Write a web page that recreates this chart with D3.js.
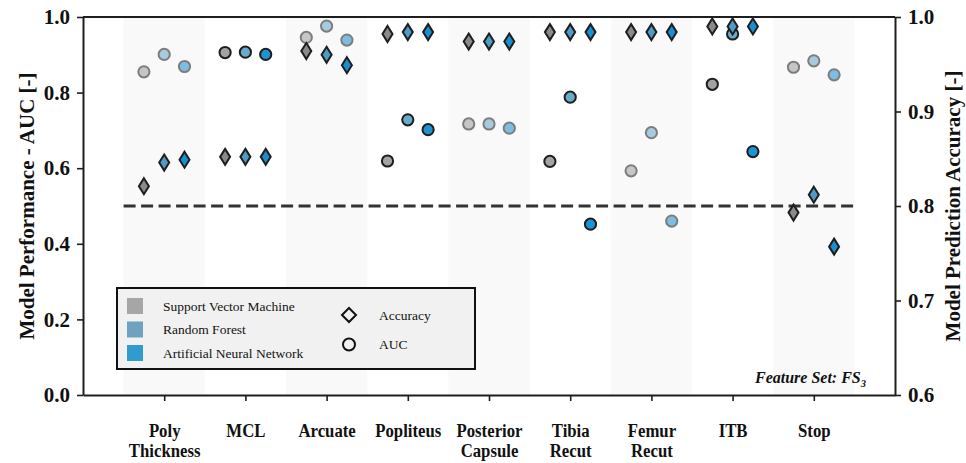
<!DOCTYPE html>
<html>
<head>
<meta charset="utf-8">
<script src="https://cdn.jsdelivr.net/npm/d3@7"></script>
<style>
  html, body { margin: 0; padding: 0; background: #ffffff; }
  svg { display: block; }
  text { font-family: "Liberation Serif", "Times New Roman", serif; }
</style>
</head>
<body>
<svg id="chart" width="966" height="463"></svg>
<script>
// Ligament / feature categories along the x axis
const categories = [
  ["Poly", "Thickness"], ["MCL"], ["Arcuate"], ["Popliteus"],
  ["Posterior", "Capsule"], ["Tibia", "Recut"], ["Femur", "Recut"], ["ITB"], ["Stop"]
];

const models = ["Support Vector Machine", "Random Forest", "Artificial Neural Network"];

// AUC per model (left axis)
const aucSVM = [0.855, 0.906, 0.946, 0.619, 0.717, 0.618, 0.593, 0.822, 0.867];
const aucRF  = [0.901, 0.907, 0.976, 0.728, 0.717, 0.788, 0.694, 0.955, 0.884];
const aucANN = [0.869, 0.901, 0.939, 0.702, 0.706, 0.452, 0.460, 0.644, 0.847];

// Prediction accuracy per model (right axis)
const accSVM = [0.821, 0.852, 0.964, 0.982, 0.974, 0.984, 0.984, 0.990, 0.793];
const accRF  = [0.846, 0.852, 0.960, 0.984, 0.974, 0.984, 0.984, 0.990, 0.812];
const accANN = [0.849, 0.852, 0.949, 0.984, 0.974, 0.984, 0.984, 0.990, 0.757];

const leftTicks  = [0.0, 0.2, 0.4, 0.6, 0.8, 1.0];
const rightTicks = [0.6, 0.7, 0.8, 0.9, 1.0];
const chanceLevel = 0.5;

const aucSeries = [aucSVM, aucRF, aucANN];
const accSeries = [accSVM, accRF, accANN];

const legendFill  = ["#a6a6a6", "#6fa2c0", "#2f9ccd"];
const circleFill  = ["#a3a3a3", "#6aaacb", "#1e93d3"];
const diamondFill = ["#8a8a8a", "#4e9cc4", "#1a8fd0"];
const ink = "#1e1e1e";

const svg = d3.select("#chart");
const m = { left: 83, right: 895, top: 17, bottom: 395 };

const x = d3.scaleLinear().domain([-1, categories.length]).range([m.left, m.right]);
const yL = d3.scaleLinear().domain([0, 1]).range([m.bottom, m.top]);
const yR = d3.scaleLinear().domain([0.6, 1]).range([m.bottom, m.top]);
const bandW = x(1) - x(0);
const offsets = [-0.25, 0, 0.25];

// AUC circles (drawn beneath the category shading)
const circles = svg.append("g");
aucSeries.forEach((vals, s) => {
  circles.selectAll(null).data(vals).enter().append("circle")
    .attr("cx", (d, i) => x(i + offsets[s]))
    .attr("cy", d => yL(d))
    .attr("r", 5.6)
    .attr("fill", circleFill[s])
    .attr("stroke", ink)
    .attr("stroke-width", 2);
});

// Alternating category shading
svg.append("g").selectAll("rect")
  .data(categories.map((c, i) => i).filter(i => i % 2 === 0))
  .enter().append("rect")
  .attr("x", i => x(i) - bandW / 2)
  .attr("y", m.top)
  .attr("width", bandW)
  .attr("height", m.bottom - m.top)
  .attr("fill", "#f1f1f1")
  .attr("fill-opacity", 0.45);

// Chance-level reference line
svg.append("line")
  .attr("x1", x(-0.5)).attr("x2", x(categories.length - 0.5))
  .attr("y1", yL(chanceLevel)).attr("y2", yL(chanceLevel))
  .attr("stroke", "#333")
  .attr("stroke-width", 3)
  .attr("stroke-dasharray", "12 5.5");

// Accuracy diamonds
const diamond = "M0,-8 L5,0 L0,8 L-5,0 Z";
const diamonds = svg.append("g");
accSeries.forEach((vals, s) => {
  diamonds.selectAll(null).data(vals).enter().append("path")
    .attr("d", diamond)
    .attr("transform", (d, i) => `translate(${x(i + offsets[s])},${yR(d)})`)
    .attr("fill", diamondFill[s])
    .attr("stroke", ink)
    .attr("stroke-width", 2)
    .attr("stroke-linejoin", "miter");
});

// Axes
const styleAxis = g => {
  g.select(".domain").attr("stroke", ink).attr("stroke-width", 2);
  g.selectAll(".tick line").attr("stroke", ink).attr("stroke-width", 1.6);
};

svg.append("g")
  .attr("transform", `translate(${m.left},0)`)
  .call(d3.axisLeft(yL).tickValues(leftTicks).tickFormat(d3.format(".1f")).tickSize(6).tickSizeOuter(0).tickPadding(7))
  .call(styleAxis)
  .call(g => g.selectAll(".tick text")
    .attr("font-family", "Liberation Serif").attr("font-weight", "bold")
    .attr("font-size", 21).attr("fill", "#111"));

svg.append("g")
  .attr("transform", `translate(${m.right},0)`)
  .call(d3.axisRight(yR).tickValues(rightTicks).tickFormat(d3.format(".1f")).tickSize(6).tickSizeOuter(0).tickPadding(7))
  .call(styleAxis)
  .call(g => g.selectAll(".tick text")
    .attr("font-family", "Liberation Serif").attr("font-weight", "bold")
    .attr("font-size", 21).attr("fill", "#111"));

const xAxis = svg.append("g")
  .attr("transform", `translate(0,${m.bottom})`)
  .call(d3.axisBottom(x).tickValues(d3.range(categories.length)).tickFormat("").tickSize(6).tickSizeOuter(0))
  .call(styleAxis);

// Category labels (one or two lines, slightly condensed)
xAxis.selectAll(".tick").each(function(i) {
  const t = d3.select(this).append("text")
    .attr("transform", "translate(0,42) scale(0.86,1)")
    .attr("text-anchor", "middle")
    .attr("font-family", "Liberation Serif").attr("font-weight", "bold")
    .attr("font-size", 19.5).attr("fill", "#111");
  categories[i].forEach((line, k) => {
    t.append("tspan").attr("x", 0).attr("dy", k === 0 ? 0 : 20).text(line);
  });
});

// Top frame line
svg.append("line")
  .attr("x1", m.left).attr("x2", m.right)
  .attr("y1", m.top).attr("y2", m.top)
  .attr("stroke", ink).attr("stroke-width", 2);

// Axis titles
svg.append("text")
  .attr("transform", `translate(29,${(m.top + m.bottom) / 2}) rotate(-90)`)
  .attr("text-anchor", "middle").attr("dominant-baseline", "middle")
  .attr("font-weight", "bold").attr("font-size", 21).attr("fill", "#111")
  .text("Model Performance - AUC [-]");

svg.append("text")
  .attr("transform", `translate(955,${(m.top + m.bottom) / 2}) rotate(-90)`)
  .attr("text-anchor", "middle").attr("dominant-baseline", "middle")
  .attr("font-weight", "bold").attr("font-size", 21).attr("fill", "#111")
  .text("Model Prediction Accuracy [-]");

// Feature set annotation
const fs = svg.append("text")
  .attr("x", 866).attr("y", 383)
  .attr("text-anchor", "end")
  .attr("font-weight", "bold").attr("font-style", "italic")
  .attr("font-size", 16).attr("fill", "#111");
fs.append("tspan").text("Feature Set: FS");
fs.append("tspan").attr("font-size", 10.5).attr("dy", 4).text("3");

// Legend
const lg = svg.append("g").attr("transform", "translate(117,288)");
lg.append("rect")
  .attr("width", 358).attr("height", 81)
  .attr("fill", "#f1f1f1")
  .attr("stroke", "#111").attr("stroke-width", 2);

models.forEach((name, s) => {
  const cy = 18 + s * 23.5;
  lg.append("rect")
    .attr("x", 10).attr("y", cy - 8).attr("width", 16).attr("height", 16)
    .attr("fill", legendFill[s]);
  lg.append("text")
    .attr("x", 46).attr("y", cy + 4.5)
    .attr("font-size", 13.5).attr("fill", "#111")
    .text(name);
});

lg.append("path")
  .attr("d", "M0,-7 L7,0 L0,7 L-7,0 Z")
  .attr("transform", "translate(232,27)")
  .attr("fill", "none").attr("stroke", "#111").attr("stroke-width", 2);
lg.append("text").attr("x", 262).attr("y", 31.5)
  .attr("font-size", 13.5).attr("fill", "#111").text("Accuracy");

lg.append("circle")
  .attr("cx", 232).attr("cy", 56.5).attr("r", 6)
  .attr("fill", "none").attr("stroke", "#111").attr("stroke-width", 2);
lg.append("text").attr("x", 262).attr("y", 61)
  .attr("font-size", 13.5).attr("fill", "#111").text("AUC");
</script>
</body>
</html>
